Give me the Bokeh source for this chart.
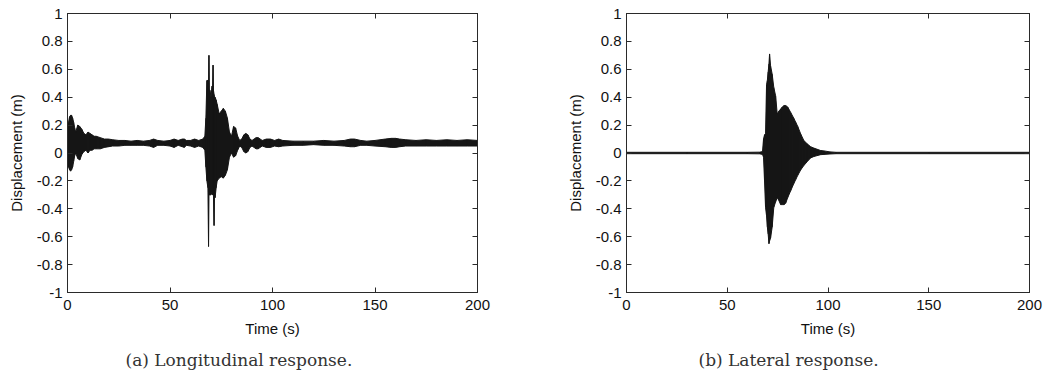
from bokeh.plotting import figure
from bokeh.layouts import row
from bokeh.models import FixedTicker, LinearAxis, CustomJSTickFormatter, Title, Range1d
from bokeh.embed import file_html
from bokeh.resources import INLINE

# ---------------- data ----------------
x_ticks = [0, 50, 100, 150, 200]
x_tick_labels = ["0", "50", "100", "150", "200"]
y_ticks = [-1, -0.8, -0.6, -0.4, -0.2, 0, 0.2, 0.4, 0.6, 0.8, 1]
y_tick_labels = ["-1", "-0.8", "-0.6", "-0.4", "-0.2", "0", "0.2", "0.4", "0.6", "0.8", "1"]

# (a) Longitudinal response: envelope of the oscillation
long_t = [0, 0.5, 1, 1.5, 2, 2.5, 3, 3.5, 4, 5, 6, 7, 8, 9, 10, 11, 12, 13, 14, 16, 18, 20,
          22, 25, 28, 31, 34, 37, 40, 42, 44, 47, 50, 52, 54, 56, 57, 58, 60, 62, 64, 66,
          67, 67.5, 68, 68.5, 68.8, 69.0, 69.2, 69.5, 70, 70.5, 70.8, 71.0, 71.2, 71.5, 71.7,
          72, 72.5, 73, 74, 75, 76, 77, 78, 79, 80, 81, 82, 83, 84, 85, 86, 87, 88, 89, 90,
          92, 93, 95, 97, 99, 101, 103, 105, 110, 115, 120, 125, 130, 135, 138, 140, 143,
          146, 150, 155, 158, 160, 162, 165, 170, 175, 180, 185, 190, 195, 200]
long_upper = [0.20, 0.22, 0.26, 0.27, 0.27, 0.25, 0.22, 0.18, 0.15, 0.20, 0.19, 0.17, 0.14,
              0.13, 0.15, 0.14, 0.13, 0.12, 0.12, 0.11, 0.10, 0.10, 0.095, 0.09, 0.09, 0.085,
              0.09, 0.085, 0.09, 0.10, 0.09, 0.085, 0.09, 0.10, 0.09, 0.10, 0.10, 0.09, 0.09,
              0.10, 0.09, 0.10, 0.12, 0.25, 0.52, 0.52, 0.50, 0.70, 0.45, 0.45, 0.40, 0.48,
              0.48, 0.63, 0.45, 0.42, 0.40, 0.40, 0.38, 0.35, 0.28, 0.30, 0.32, 0.30, 0.25,
              0.15, 0.12, 0.19, 0.18, 0.12, 0.09, 0.10, 0.13, 0.14, 0.13, 0.10, 0.09, 0.11,
              0.11, 0.09, 0.10, 0.10, 0.09, 0.10, 0.09, 0.085, 0.085, 0.085, 0.09, 0.085,
              0.09, 0.10, 0.10, 0.09, 0.085, 0.09, 0.10, 0.105, 0.105, 0.10, 0.095, 0.09,
              0.095, 0.09, 0.095, 0.09, 0.095, 0.09]
long_lower = [-0.05, -0.10, -0.12, -0.13, -0.12, -0.10, -0.06, -0.02, 0.00, -0.04, -0.05,
              -0.01, 0.01, 0.02, 0.00, 0.02, 0.02, 0.03, 0.03, 0.03, 0.04, 0.045, 0.05, 0.05,
              0.055, 0.055, 0.055, 0.055, 0.05, 0.04, 0.055, 0.055, 0.05, 0.04, 0.055, 0.045,
              0.04, 0.055, 0.05, 0.04, 0.05, 0.04, 0.02, -0.10, -0.20, -0.25, -0.67, -0.30,
              -0.30, -0.30, -0.30, -0.28, -0.30, -0.30, -0.30, -0.52, -0.30, -0.32, -0.25,
              -0.20, -0.18, -0.17, -0.18, -0.16, -0.12, -0.03, 0.00, -0.03, -0.02, 0.02, 0.05,
              0.04, 0.01, 0.00, 0.01, 0.04, 0.05, 0.03, 0.03, 0.05, 0.04, 0.04, 0.05, 0.045,
              0.05, 0.055, 0.055, 0.06, 0.055, 0.055, 0.05, 0.045, 0.045, 0.055, 0.055, 0.05,
              0.045, 0.04, 0.04, 0.045, 0.05, 0.05, 0.05, 0.05, 0.05, 0.05, 0.05, 0.05]

# (b) Lateral response: envelope of the oscillation
lat_t = [0, 30, 60, 66, 67.5, 68.0, 68.5, 69.0, 69.5, 69.9, 70.3, 70.7, 71.0, 71.5, 72.3,
         73.1, 74.0, 74.8, 75.6, 76.5, 77.3, 78.2, 79.0, 80.0, 81.5, 83.0, 84.0, 85.0, 86.5,
         88.0, 89.8, 91.4, 93.0, 96.3, 98.0, 101, 104, 150, 200]
lat_upper = [0.005, 0.005, 0.005, 0.006, 0.01, 0.10, 0.13, 0.14, 0.49, 0.52, 0.58, 0.64,
             0.71, 0.625, 0.565, 0.47, 0.41, 0.28, 0.30, 0.315, 0.33, 0.34, 0.34, 0.33, 0.29,
             0.25, 0.22, 0.19, 0.135, 0.09, 0.064, 0.045, 0.035, 0.018, 0.015, 0.008, 0.005,
             0.005, 0.005]
lat_lower = [-0.005, -0.005, -0.005, -0.006, -0.01, -0.03, -0.20, -0.39, -0.45, -0.53,
             -0.58, -0.65, -0.63, -0.61, -0.53, -0.39, -0.35, -0.32, -0.34, -0.37, -0.37,
             -0.37, -0.36, -0.32, -0.27, -0.22, -0.19, -0.16, -0.12, -0.09, -0.06, -0.035,
             -0.025, -0.012, -0.01, -0.007, -0.005, -0.005, -0.005]

INK = "#161616"
AX = "#2a2a2a"


def make_panel(t, up, lo, caption, border_left, border_right, caption_offset):
    p = figure(width=531, height=380, output_backend="svg", toolbar_location=None,
               title=None, x_range=Range1d(0, 200), y_range=Range1d(-1, 1),
               min_border_left=border_left, min_border_right=border_right,
               min_border_top=13, min_border_bottom=88)
    p.xgrid.visible = False
    p.ygrid.visible = False
    p.outline_line_color = AX
    p.outline_line_width = 1
    p.background_fill_color = "white"
    p.border_fill_color = "white"

    p.varea(x=t, y1=lo, y2=up, fill_color=INK)
    p.line(t, up, line_color=INK, line_width=1)
    p.line(t, lo, line_color=INK, line_width=1)
    p.segment(x0=t, y0=lo, x1=t, y1=up, line_color=INK, line_width=1)

    xa = p.xaxis[0]
    xa.ticker = FixedTicker(ticks=x_ticks)
    xa.major_label_overrides = dict(zip(x_ticks, x_tick_labels))
    xa.axis_label = "Time (s)"
    xa.major_label_standoff = 7
    xa.axis_label_standoff = 7
    ya = p.yaxis[0]
    ya.ticker = FixedTicker(ticks=y_ticks)
    ya.major_label_overrides = dict(zip(y_ticks, y_tick_labels))
    ya.axis_label = "Displacement (m)"
    ya.major_label_standoff = 5
    ya.axis_label_standoff = 9
    for a in (xa, ya):
        a.major_tick_in = 5
        a.major_tick_out = 0
        a.minor_tick_line_color = None
        a.axis_line_color = AX
        a.major_tick_line_color = AX
        a.major_label_text_font = "Liberation Sans"
        a.major_label_text_font_size = "15px"
        a.major_label_text_color = "#111111"
        a.axis_label_text_font = "Liberation Sans"
        a.axis_label_text_font_size = "15px"
        a.axis_label_text_font_style = "normal"
        a.axis_label_text_color = "#111111"

    for side, ticks in (("right", y_ticks), ("above", x_ticks)):
        ax = LinearAxis(ticker=FixedTicker(ticks=ticks),
                        formatter=CustomJSTickFormatter(code="return ''"),
                        major_label_text_font_size="1px", major_label_standoff=0,
                        major_tick_in=5, major_tick_out=0,
                        minor_tick_line_color=None, axis_line_color=AX,
                        major_tick_line_color=AX)
        p.add_layout(ax, side)

    cap = Title(text=caption, align="left", offset=caption_offset,
                text_font="DejaVu Serif", text_font_size="17px",
                text_font_style="normal", text_color="#333333", standoff=16)
    p.add_layout(cap, "below")
    return p


p1 = make_panel(long_t, long_upper, long_lower, "(a) Longitudinal response.", 67, 54, 58)
p2 = make_panel(lat_t, lat_upper, lat_lower, "(b) Lateral response.", 95, 33, 72)

layout = row(p1, p2)
open("out.html", "w").write(file_html(layout, INLINE))
